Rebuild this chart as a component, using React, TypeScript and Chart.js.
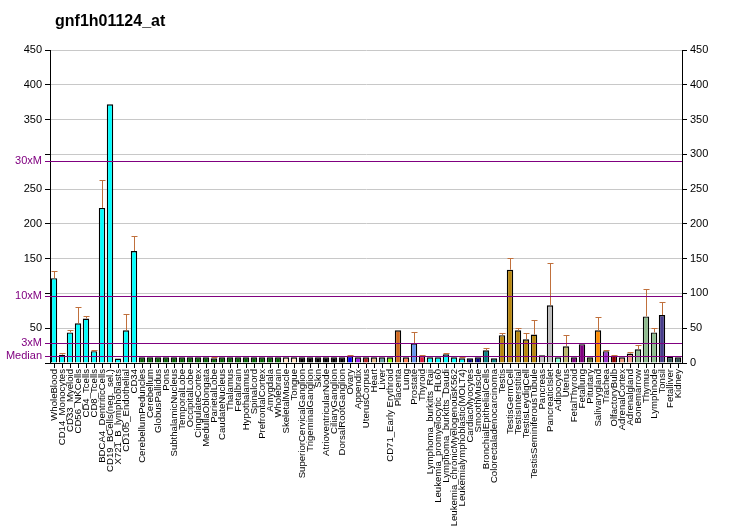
import React, { useEffect, useRef } from 'react';
import { Chart, registerables } from 'chart.js';
Chart.register(...registerables);

const chartTitle = 'gnf1h01124_at';

const categories = [
  'WholeBlood', 'CD14_Monocytes', 'CD33_Myeloid', 'CD56_NKCells', 'CD4_Tcells', 'CD8_Tcells',
  'BDCA4_DentriticCells', 'CD19_BCells(neg._sel.)', 'X721_B_lymphoblasts', 'CD105_Endothelial', 'CD34',
  'CerebellumPeduncles', 'Cerebellum', 'GlobusPallidus', 'Pons', 'SubthalamicNucleus', 'TemporalLobe',
  'OccipitalLobe', 'CingulateCortex', 'MedullaOblongata', 'ParietalLobe', 'CaudateNucleus', 'Thalamus',
  'Fetalbrain', 'Hypothalamus', 'Spinalcord', 'PrefrontalCortex', 'Amygdala', 'Wholebrain',
  'SkeletalMuscle', 'Tongue', 'SuperiorCervicalGanglion', 'TrigeminalGanglion', 'Skin',
  'AtrioventricularNode', 'CiliaryGanglion', 'DorsalRootGanglion', 'Ovary', 'Appendix', 'UterusCorpus',
  'Heart', 'Liver', 'CD71_Early Erythroid', 'Placenta', 'Lung', 'Prostate', 'Thyroid',
  'Lymphoma_burkitts_Raji', 'Leukemia_promyelocytic_HL60', 'Lymphoma_burkitts_Daudi',
  'Leukemia_chronicMyelogenousK562', 'Leukemialymphoblastic(MOLT4)', 'CardiacMyocytes', 'SmoothMuscle',
  'BronchialEpithelialCells', 'Colorectaladenocarcinoma', 'Testis', 'TestisGermCell', 'TestisInterstitial',
  'TestisLeydigCell', 'TestisSeminiferousTubule', 'Pancreas', 'PancreaticIslet', 'Adipocyte', 'Uterus',
  'FetalThyroid', 'Fetallung', 'Pituitary', 'Salivarygland', 'Trachea', 'OlfactoryBulb', 'AdrenalCortex',
  'Adrenalgland', 'Bonemarrow', 'Thymus', 'Lymphnode', 'Tonsil', 'Fetalliver', 'Kidney',
];

const values = [
  122, 12, 44, 57, 64, 17, 223, 372, 6.3, 47, 161,
  8.2, 8.2, 8.2, 8.2, 8.2, 8.2, 8.2, 8.2, 8.2, 6.8, 8.2, 8.2,
  8.2, 8.2, 8.2, 8.2, 8.2, 8.2,
  8.2, 8.2, 8.2, 8.2, 8.2, 8.2, 8.2, 8.2, 10, 8.2, 8.2,
  8.2, 8.2, 8.2, 47, 8.2, 28.4, 10.1,
  8.2, 8.2, 12.5, 8.2, 6.8, 6.8, 8.2,
  18.3, 6.8, 40, 134, 47, 34, 41, 11, 83, 8.2, 24,
  8.2, 27, 8.2, 47, 17, 10.6, 8.2, 13.5, 19.7, 67, 44, 69, 8.7, 8.2,
];

const errorTops: (number | null)[] = [
  132, 15, 47, 80, 67, 18, 263, null, null, 70, 182,
  null, null, null, null, null, null, null, null, null, 8, null, null,
  null, null, null, null, null, null,
  null, null, null, null, null, 10.6, null, null, 11.5, null, null,
  null, null, null, null, null, 44, 11,
  null, null, 14, null, 8.2, null, null,
  22, null, 43, 151, 51, 43, 62, null, 144, null, 40,
  null, null, null, 65.5, 19, 11.5, null, 16, 26, 107, 50, 87, null, null,
];

const barColors = [
  ...Array(11).fill('#00FFFF'),
  ...Array(18).fill('#006400'),
  '#FFE4C4', '#FFE4C4',
  '#000000', '#000000', '#000000', '#000000', '#000000', '#000000',
  '#0000FF', '#A020F0', '#B22222', '#DEB887', '#5F9EA0', '#7FFF00', '#D2691E', '#FF7F50', '#6495ED',
  '#DC143C',
  '#00FFFF', '#00FFFF', '#00FFFF', '#00FFFF', '#00FFFF',
  '#000080', '#000080', '#008080', '#008080',
  '#B8860B', '#B8860B', '#B8860B', '#B8860B', '#B8860B',
  '#BEBEBE', '#BEBEBE', '#7FFFD4', '#BDB76B', '#800080', '#800080', '#556B2F', '#FF8C00',
  '#9932CC', '#8B0000', '#E9967A', '#F0A090', '#8FBC8F', '#8FBC8F', '#8FBC8F', '#483D8B',
  '#2F4F4F', '#2F4F4F',
];

const yTickValues = [0, 50, 100, 150, 200, 250, 300, 350, 400, 450];
const median = 9.7;
const refMultipliers = [30, 10, 3, 1];
const refLabels = ['30xM', '10xM', '3xM', 'Median'];

const FONT = '"Liberation Sans", Arial, sans-serif';
const PURPLE = '#800080';
const ERR_COLOR = '#C0703C';

export default function App() {
  const canvasRef = useRef<HTMLCanvasElement | null>(null);

  useEffect(() => {
    const refs = refMultipliers.map((m, i) => ({ value: median * m, label: refLabels[i] }));
    const findRef = (v: number) => refs.find((r) => Math.abs(r.value - v) < 1e-6);

    const titlePlugin = {
      id: 'titleText',
      beforeDraw(chart: any) {
        const ctx = chart.ctx;
        ctx.save();
        ctx.fillStyle = '#000';
        ctx.font = `bold 16px ${FONT}`;
        ctx.textBaseline = 'alphabetic';
        ctx.textAlign = 'left';
        ctx.fillText(chartTitle, 55, 26);
        ctx.restore();
      },
    };

    const overlayPlugin = {
      id: 'overlay',
      afterDatasetsDraw(chart: any) {
        const ctx = chart.ctx;
        const x = chart.scales.x;
        const y = chart.scales.y;
        const area = chart.chartArea;
        ctx.save();
        ctx.strokeStyle = ERR_COLOR;
        ctx.lineWidth = 1;
        errorTops.forEach((e, i) => {
          if (e == null) return;
          const cx = Math.round(x.getPixelForValue(i)) + 0.5;
          const y0 = y.getPixelForValue(values[i]);
          const y1 = Math.round(y.getPixelForValue(e)) + 0.5;
          ctx.beginPath();
          ctx.moveTo(cx, y0);
          ctx.lineTo(cx, y1);
          ctx.moveTo(cx - 3, y1);
          ctx.lineTo(cx + 3, y1);
          ctx.stroke();
        });
        ctx.strokeStyle = PURPLE;
        ctx.lineWidth = 1.2;
        refs.forEach((r) => {
          const py = Math.round(y.getPixelForValue(r.value)) + 0.5;
          ctx.beginPath();
          ctx.moveTo(area.left - 5, py);
          ctx.lineTo(area.right, py);
          ctx.stroke();
        });
        ctx.restore();
      },
    };

    const chart = new Chart(canvasRef.current as HTMLCanvasElement, {
      type: 'bar',
      data: {
        labels: categories,
        datasets: [
          {
            data: values,
            backgroundColor: barColors,
            borderColor: '#000',
            borderWidth: 1.4,
            barPercentage: 0.8,
            categoryPercentage: 1,
            yAxisID: 'y',
          },
        ],
      },
      options: {
        animation: false,
        responsive: false,
        maintainAspectRatio: false,
        layout: { padding: { top: 50, left: 0, right: 0, bottom: 0 } },
        plugins: {
          legend: { display: false },
          title: { display: false },
          tooltip: { enabled: false },
        },
        scales: {
          x: {
            type: 'category',
            offset: true,
            border: { color: '#000', width: 1 },
            grid: {
              offset: false,
              drawOnChartArea: false,
              drawTicks: true,
              tickLength: 5,
              tickColor: '#000',
            },
            ticks: {
              autoSkip: false,
              minRotation: 90,
              maxRotation: 90,
              padding: 1,
              color: '#000',
              font: { family: FONT, size: 9.6 },
            },
            afterFit(scale: any) {
              scale.height = 167;
            },
          },
          y: {
            position: 'left',
            min: 0,
            max: 450,
            border: { color: '#000', width: 1 },
            afterBuildTicks(scale: any) {
              const all = [...yTickValues, ...refs.map((r) => r.value)].sort((a, b) => a - b);
              scale.ticks = all.map((v) => ({ value: v }));
            },
            grid: {
              color: (ctx: any) => {
                const v = ctx.tick ? ctx.tick.value : 0;
                if (findRef(v)) return 'rgba(0,0,0,0)';
                if (v === 0) return 'rgba(0,0,0,0)';
                return '#C8C8C8';
              },
              tickColor: (ctx: any) => {
                const v = ctx.tick ? ctx.tick.value : 0;
                return findRef(v) ? 'rgba(0,0,0,0)' : '#000';
              },
              tickLength: 5,
            },
            ticks: {
              autoSkip: false,
              padding: 3,
              font: { family: FONT, size: 11 },
              color: (ctx: any) => (ctx.tick && findRef(ctx.tick.value) ? PURPLE : '#000'),
              callback: (v: any) => {
                const n = Number(v);
                const r = findRef(n);
                if (r) return r.label;
                if (refs.some((rr) => Math.abs(rr.value - n) < 12)) return '';
                return String(n);
              },
            },
            afterFit(scale: any) {
              scale.width = 50;
            },
          },
          y2: {
            position: 'right',
            min: 0,
            max: 450,
            border: { color: '#000', width: 1 },
            afterBuildTicks(scale: any) {
              scale.ticks = yTickValues.map((v) => ({ value: v }));
            },
            grid: { drawOnChartArea: false, tickLength: 5, tickColor: '#000' },
            ticks: {
              autoSkip: false,
              padding: 3,
              color: '#000',
              font: { family: FONT, size: 11 },
            },
            afterFit(scale: any) {
              scale.width = 50;
            },
          },
        },
      },
      plugins: [titlePlugin, overlayPlugin],
    } as any);

    return () => chart.destroy();
  }, []);

  return (
    <div style={{ position: 'absolute', left: 0, top: 0, width: 732, height: 530, background: '#fff' }}>
      <canvas ref={canvasRef} width={732} height={530} style={{ width: 732, height: 530 }} />
    </div>
  );
}
